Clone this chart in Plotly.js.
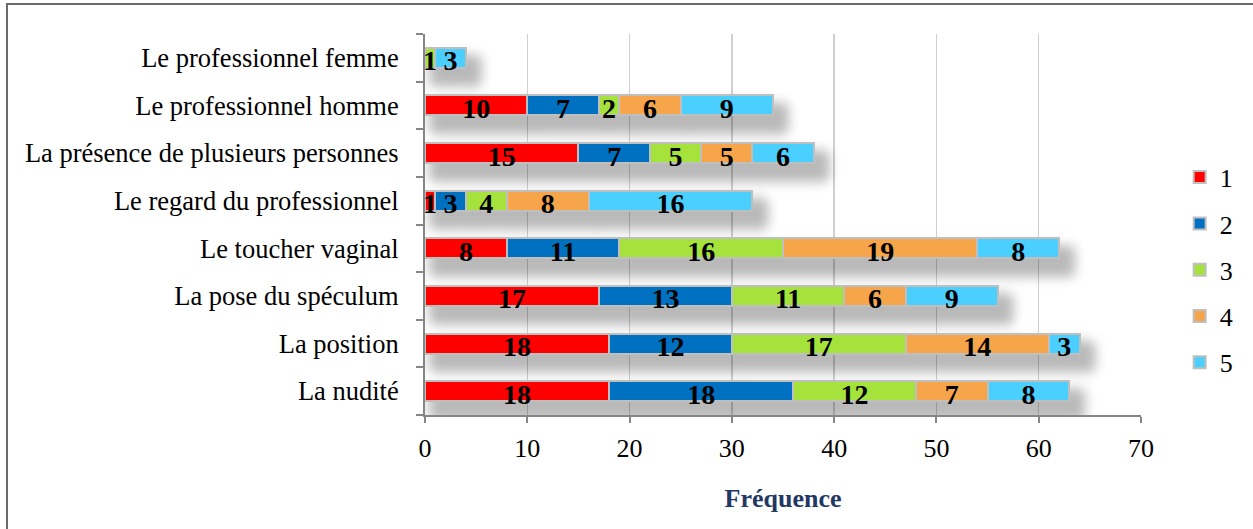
<!DOCTYPE html>
<html>
<head>
<meta charset="utf-8">
<script src="https://cdn.plot.ly/plotly-3.0.1.min.js"></script>
<style>
  html, body { margin: 0; padding: 0; background: #fff; overflow: hidden; }
  #chart { position: absolute; left: 0; top: 0; width: 1253px; height: 529px; }
  #frame { position: absolute; left: 6px; top: 3px; width: 1400px; height: 700px;
           border: 2px solid #6b6b6b; pointer-events: none; }
</style>
</head>
<body>
<div id="chart"></div>
<div id="frame"></div>
<script>
// Categories (bottom to top)
const categories = [
  'La nudité',
  'La position',
  'La pose du spéculum',
  'Le toucher vaginal',
  'Le regard du professionnel',
  'La présence de plusieurs personnes',
  'Le professionnel homme',
  'Le professionnel femme'
];
const seriesNames = ['1', '2', '3', '4', '5'];
const s1 = [18, 18, 17, 8, 1, 15, 10, 0];
const s2 = [18, 12, 13, 11, 3, 7, 7, 0];
const s3 = [12, 17, 11, 16, 4, 5, 2, 1];
const s4 = [7, 14, 6, 19, 8, 5, 6, 0];
const s5 = [8, 3, 9, 8, 16, 6, 9, 3];
const xTicks = [0, 10, 20, 30, 40, 50, 60, 70];

const seriesValues = [s1, s2, s3, s4, s5];
const colors = ['#FF0000', '#0070C0', '#A5E33C', '#F7A54B', '#4BCFFF'];
const serif = '"Liberation Serif", "Times New Roman", serif';

const traces = seriesValues.map((vals, i) => ({
  type: 'bar',
  orientation: 'h',
  name: seriesNames[i],
  legendgroup: 'g' + i,
  y: categories,
  x: vals,
  text: vals.map(v => v > 0 ? String(v) : ''),
  textposition: 'inside',
  insidetextanchor: 'middle',
  textangle: 0,
  constraintext: 'none',
  textfont: { family: serif, size: 28, color: '#000', weight: 'bold' },
  insidetextfont: { family: serif, size: 28, color: '#000', weight: 'bold' },
  marker: { color: colors[i], line: { color: '#BFBFBF', width: 2 } },
  hoverinfo: 'none'
}));

const layout = {
  width: 1253,
  height: 529,
  margin: { l: 425, r: 112, t: 34, b: 114 },
  paper_bgcolor: 'rgba(0,0,0,0)',
  plot_bgcolor: 'rgba(0,0,0,0)',
  barmode: 'stack',
  bargap: 0.58,
  showlegend: true,
  legend: {
    x: 1.054, xanchor: 'left', y: 0.38, yanchor: 'middle',
    traceorder: 'grouped', tracegroupgap: 9.5,
    font: { family: serif, size: 26, color: '#000' },
    bgcolor: 'rgba(0,0,0,0)'
  },
  xaxis: {
    range: [0, 70],
    tickvals: xTicks,
    ticktext: xTicks.map(String),
    showgrid: true, gridcolor: '#D0D0D0', gridwidth: 1.5,
    zeroline: false,
    showline: true, linecolor: '#868686', linewidth: 2,
    ticks: 'outside', ticklen: 6, tickcolor: '#868686', tickwidth: 2,
    ticklabelstandoff: 3,
    tickfont: { family: serif, size: 26, color: '#000' },
    title: { text: 'Fréquence', font: { family: serif, size: 26, color: '#1F3864', weight: 'bold' }, standoff: 27 },
    fixedrange: true
  },
  yaxis: {
    type: 'category',
    categoryorder: 'array',
    categoryarray: categories,
    showgrid: false,
    zeroline: false,
    showline: true, linecolor: '#868686', linewidth: 2,
    ticks: 'outside', ticklen: 7, tickcolor: '#868686', tickwidth: 2,
    tickson: 'boundaries',
    ticklabelstandoff: 19,
    tickfont: { family: serif, size: 26.5, color: '#000' },
    fixedrange: true
  }
};

Plotly.newPlot('chart', traces, layout, { displayModeBar: false, staticPlot: true }).then(gd => {
  // soft drop shadow under the bars, built from the library-drawn bar paths
  const ns = 'http://www.w3.org/2000/svg';
  const svg = gd.querySelector('svg.main-svg');
  let defs = svg.querySelector('defs');
  if (!defs) { defs = document.createElementNS(ns, 'defs'); svg.insertBefore(defs, svg.firstChild); }
  const f = document.createElementNS(ns, 'filter');
  f.setAttribute('id', 'barshadow');
  f.setAttribute('filterUnits', 'userSpaceOnUse');
  f.setAttribute('x', '-100'); f.setAttribute('y', '-100');
  f.setAttribute('width', '1100'); f.setAttribute('height', '700');
  const blur = document.createElementNS(ns, 'feGaussianBlur');
  blur.setAttribute('in', 'SourceGraphic');
  blur.setAttribute('stdDeviation', '6');
  f.appendChild(blur);
  defs.appendChild(f);
  const bl = gd.querySelector('.barlayer');
  const outer = document.createElementNS(ns, 'g');
  outer.setAttribute('transform', 'translate(10,13)');
  outer.setAttribute('opacity', '0.27');
  const inner = document.createElementNS(ns, 'g');
  inner.setAttribute('filter', 'url(#barshadow)');
  bl.querySelectorAll('path').forEach(p => {
    const c = p.cloneNode(false);
    c.setAttribute('style', 'fill:#000;stroke:#000;stroke-width:12px;stroke-linejoin:round');
    inner.appendChild(c);
  });
  outer.appendChild(inner);
  bl.parentNode.insertBefore(outer, bl);
  // nudge bar labels slightly lower, as in the original
  gd.querySelectorAll('.barlayer text.bartext').forEach(t => {
    const tr = t.getAttribute('transform') || '';
    t.setAttribute('transform', 'translate(0,3) ' + tr);
  });
});
</script>
</body>
</html>
